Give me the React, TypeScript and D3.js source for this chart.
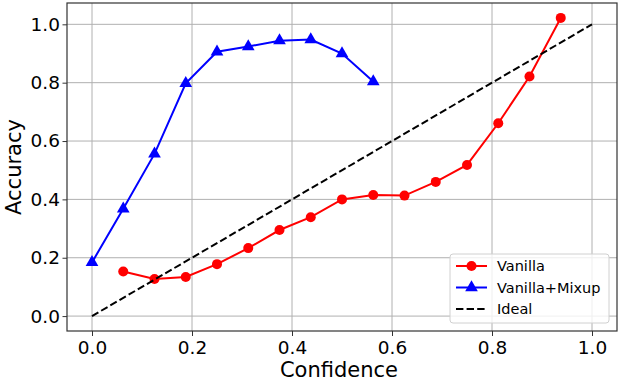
import React, { useEffect, useRef } from "react";
import * as d3 from "d3";

// bin centres / confidences
const vanillaConf = [0.0625, 0.125, 0.1875, 0.25, 0.3125, 0.375, 0.4375, 0.5, 0.5625, 0.625, 0.6875, 0.75, 0.8125, 0.875, 0.9375];
const vanillaAcc = [0.153, 0.127, 0.134, 0.178, 0.233, 0.295, 0.339, 0.4, 0.415, 0.413, 0.46, 0.518, 0.661, 0.821, 1.022];

const mixupConf = [0.0, 0.0625, 0.125, 0.1875, 0.25, 0.3125, 0.375, 0.4375, 0.5, 0.5625];
const mixupAcc = [0.184, 0.368, 0.556, 0.798, 0.906, 0.924, 0.944, 0.948, 0.9, 0.804];

const idealLine = [0, 1];
const tickValues = [0, 0.2, 0.4, 0.6, 0.8, 1.0];

const App = () => {
  const ref = useRef<SVGSVGElement>(null);

  useEffect(() => {
    const width = 620;
    const height = 380;
    const margin = { top: 3, right: 3, bottom: 49, left: 67 };
    const innerW = width - margin.left - margin.right;
    const innerH = height - margin.top - margin.bottom;
    const font = "DejaVu Sans";

    const root = d3.select(ref.current);
    root.selectAll("*").remove();

    const svg = root
      .append("g")
      .attr("transform", `translate(${margin.left},${margin.top})`);

    const x = d3.scaleLinear().domain([-0.05, 1.05]).range([0, innerW]);
    const y = d3.scaleLinear().domain([-0.0511, 1.0731]).range([innerH, 0]);

    // grid
    svg
      .append("g")
      .selectAll("line")
      .data(tickValues)
      .join("line")
      .attr("x1", (d) => x(d))
      .attr("x2", (d) => x(d))
      .attr("y1", 0)
      .attr("y2", innerH)
      .attr("stroke", "#b0b0b0")
      .attr("stroke-width", 1);
    svg
      .append("g")
      .selectAll("line")
      .data(tickValues)
      .join("line")
      .attr("x1", 0)
      .attr("x2", innerW)
      .attr("y1", (d) => y(d))
      .attr("y2", (d) => y(d))
      .attr("stroke", "#b0b0b0")
      .attr("stroke-width", 1);

    const line = d3
      .line<[number, number]>()
      .x((d) => x(d[0]))
      .y((d) => y(d[1]));

    const vanilla: [number, number][] = vanillaConf.map((c, i) => [c, vanillaAcc[i]]);
    const mixup: [number, number][] = mixupConf.map((c, i) => [c, mixupAcc[i]]);
    const ideal: [number, number][] = idealLine.map((v) => [v, v]);

    // Vanilla
    svg
      .append("path")
      .datum(vanilla)
      .attr("d", line)
      .attr("fill", "none")
      .attr("stroke", "red")
      .attr("stroke-width", 2);
    svg
      .append("g")
      .selectAll("circle")
      .data(vanilla)
      .join("circle")
      .attr("cx", (d) => x(d[0]))
      .attr("cy", (d) => y(d[1]))
      .attr("r", 5)
      .attr("fill", "red");

    // Mixup
    svg
      .append("path")
      .datum(mixup)
      .attr("d", line)
      .attr("fill", "none")
      .attr("stroke", "blue")
      .attr("stroke-width", 2);
    const tri = d3.symbol().type(d3.symbolTriangle).size(70);
    svg
      .append("g")
      .selectAll("path")
      .data(mixup)
      .join("path")
      .attr("transform", (d) => `translate(${x(d[0])},${y(d[1])})`)
      .attr("d", tri)
      .attr("fill", "blue");

    // Ideal
    svg
      .append("path")
      .datum(ideal)
      .attr("d", line)
      .attr("fill", "none")
      .attr("stroke", "black")
      .attr("stroke-width", 2)
      .attr("stroke-dasharray", "7.4,3.2");

    // axes
    const xAxis = svg
      .append("g")
      .attr("transform", `translate(0,${innerH})`)
      .call(
        d3.axisBottom(x).tickValues(tickValues).tickFormat(d3.format(".1f")).tickSize(5).tickPadding(5)
      );
    const yAxis = svg
      .append("g")
      .call(
        d3.axisLeft(y).tickValues(tickValues).tickFormat(d3.format(".1f")).tickSize(4.5).tickPadding(2.5)
      );
    [xAxis, yAxis].forEach((a) => {
      a.select(".domain").remove();
      a.selectAll("line").attr("stroke", "#333").attr("stroke-width", 1);
      a.selectAll("text")
        .attr("font-family", font)
        .attr("font-size", 18.5)
        .attr("fill", "#000");
    });

    // frame
    svg
      .append("rect")
      .attr("width", innerW)
      .attr("height", innerH)
      .attr("fill", "none")
      .attr("stroke", "#333")
      .attr("stroke-width", 1.2);

    // axis labels
    svg
      .append("text")
      .attr("x", innerW / 2 - 3)
      .attr("y", innerH + 45.7)
      .attr("text-anchor", "middle")
      .attr("font-family", font)
      .attr("font-size", 21)
      .text("Confidence");
    svg
      .append("text")
      .attr("transform", "rotate(-90)")
      .attr("x", -innerH / 2)
      .attr("y", -margin.left + 20.5)
      .attr("text-anchor", "middle")
      .attr("font-family", font)
      .attr("font-size", 21)
      .text("Accuracy");

    // legend
    const lg = svg.append("g").attr("transform", `translate(${450 - margin.left},${254 - margin.top})`);
    lg.append("rect")
      .attr("width", 159)
      .attr("height", 69)
      .attr("rx", 3)
      .attr("fill", "white")
      .attr("fill-opacity", 0.8)
      .attr("stroke", "#d0d0d0");
    const items = [
      { label: "Vanilla", color: "red", marker: "circle", dash: null },
      { label: "Vanilla+Mixup", color: "blue", marker: "triangle", dash: null },
      { label: "Ideal", color: "black", marker: null, dash: "7.4,3.2" },
    ];
    items.forEach((it, i) => {
      const cy = 12 + i * 21.5;
      const row = lg.append("g").attr("transform", `translate(0,${cy})`);
      row
        .append("line")
        .attr("x1", 6)
        .attr("x2", 37)
        .attr("stroke", it.color)
        .attr("stroke-width", 2)
        .attr("stroke-dasharray", it.dash);
      if (it.marker === "circle") {
        row.append("circle").attr("cx", 21.5).attr("r", 5).attr("fill", it.color);
      } else if (it.marker === "triangle") {
        row.append("path").attr("transform", "translate(21.5,0)").attr("d", tri).attr("fill", it.color);
      }
      row
        .append("text")
        .attr("x", 47)
        .attr("dy", "0.35em")
        .attr("font-family", font)
        .attr("font-size", 14.5)
        .text(it.label);
    });
  }, []);

  return (
    <svg
      ref={ref}
      width={620}
      height={380}
      style={{ position: "absolute", left: 0, top: 0, background: "white" }}
    />
  );
};

export default App;
